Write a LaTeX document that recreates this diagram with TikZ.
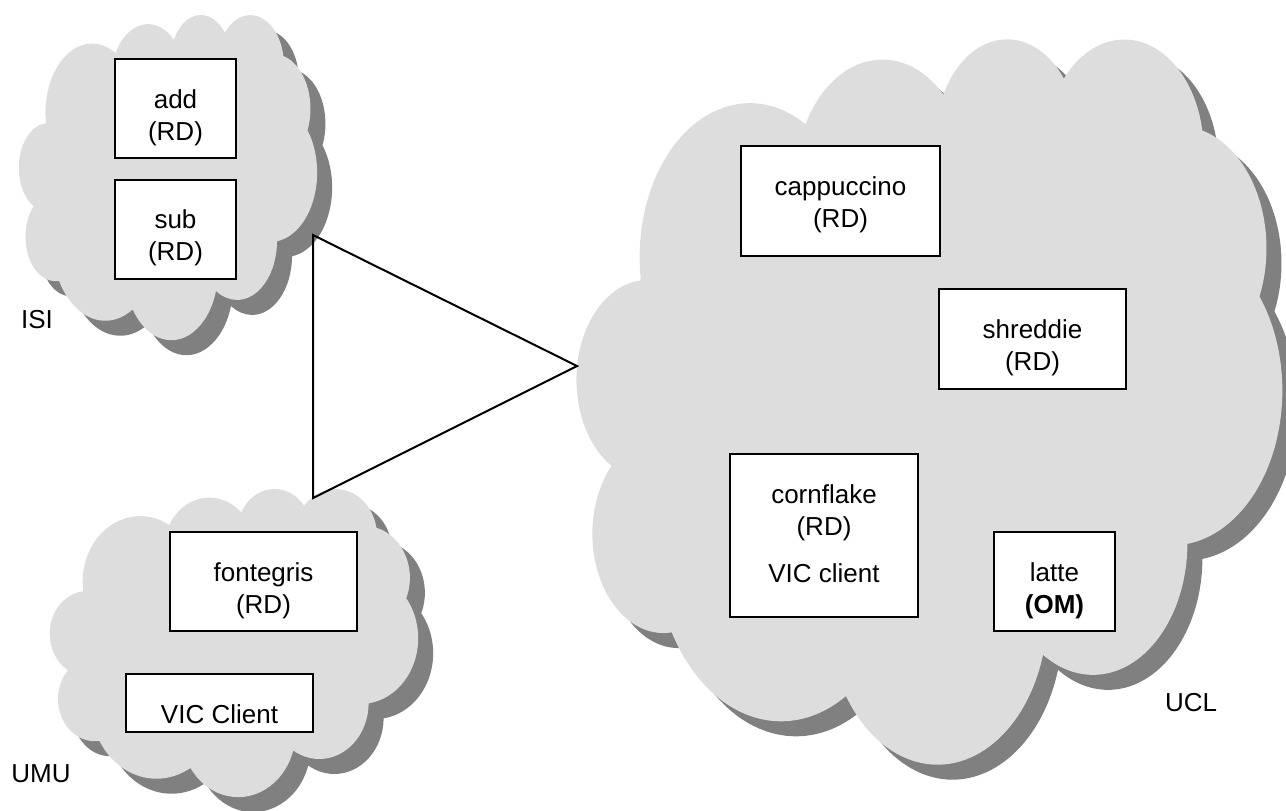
\documentclass[tikz,border=0pt]{standalone}
\usepackage{fontspec}
\setmainfont{Liberation Sans}
\usetikzlibrary{positioning}

\definecolor{cloudgray}{RGB}{221,221,221}
\definecolor{shadowgray}{RGB}{128,128,128}

% outline of one cloud, drawn in a 100 x 100 box
\newcommand{\cloudpath}{(9.028,33.264)
	arc[start angle=172.25, delta angle=128.11, x radius=15.632, y radius=21.273]
	arc[start angle=-152.03, delta angle=106.58, x radius=12.345, y radius=16.822]
	arc[start angle=-153.49, delta angle=116.18, x radius=10.104, y radius=13.762]
	arc[start angle=-139.72, delta angle=129.51, x radius=11.243, y radius=15.266]
	arc[start angle=-74.77, delta angle=97.98, x radius=12.345, y radius=16.836]
	arc[start angle=-37.53, delta angle=119.39, x radius=15.683, y radius=21.343]
	arc[start angle=0.46, delta angle=121.52, x radius=13.391, y radius=18.211]
	arc[start angle=16.84, delta angle=129.38, x radius=15.630, y radius=21.331]
	arc[start angle=58.98, delta angle=91.20, x radius=17.870, y radius=24.405]
	arc[start angle=83.31, delta angle=139.79, x radius=10.093, y radius=13.699]
	arc[start angle=120.36, delta angle=143.75, x radius=10.058, y radius=13.762]
	-- cycle}

% cloud with its shadow: left, top, width, height
\newcommand{\sitecloud}[4]{%
	\fill[shadowgray, shift={(#1+15,#2+15)}, xscale=#3/100, yscale=#4/100] \cloudpath;
	\fill[cloudgray, shift={(#1,#2)}, xscale=#3/100, yscale=#4/100] \cloudpath;}

\begin{document}
\begin{tikzpicture}[x=0.5pt, y=-0.5pt,
	every node/.style = {font=\fontsize{13}{16}\selectfont},
	host/.style = {draw, fill=white, line width=1pt, align=center, inner sep=0pt},
	twolines/.style = {text height=40.5pt},
	site/.style = {inner sep=0pt}]
		\useasboundingbox (0,0) rectangle (1286,810);
		\clip (0,0) rectangle (1286,810);

		\sitecloud{19}{14}{298}{325}
		\sitecloud{50}{488}{368}{308}
		\sitecloud{577}{37}{705}{725}

		% ISI
		\node[host, twolines, minimum width=60.5pt, minimum height=49.5pt, text depth=9pt] (add) at (175.5,108.5) {add\\(RD)};
		\node[host, twolines, minimum width=60.5pt, minimum height=49.5pt, text depth=9pt] (sub) at (175.5,229) {sub\\(RD)};
		\node[site] (isi) at (37,320) {ISI};

		% UMU
		\node[host, twolines, minimum width=93.5pt, minimum height=49.5pt, text depth=9pt] (fontegris) at (263.5,581.5) {fontegris\\(RD)};
		\node[host, minimum width=93.5pt, minimum height=29pt, text height=24.5pt, text depth=4.5pt] (vicumu) at (219.5,703) {VIC Client};
		\node[site] (umu) at (41,774) {UMU};

		% UCL
		\node[host, twolines, minimum width=99.5pt, minimum height=55pt, text depth=14.5pt] (cappuccino) at (840.5,201) {cappuccino\\(RD)};
		\node[host, twolines, minimum width=93.5pt, minimum height=50pt, text depth=9.5pt] (shreddie) at (1032.5,339) {shreddie\\(RD)};
		\node[host, minimum width=94pt, minimum height=81.5pt, text height=64pt, text depth=17.5pt] (cornflake) at (824,535.5) {cornflake\\(RD)\\[7.5pt]VIC client};
		\node[host, twolines, minimum width=60.5pt, minimum height=49.5pt, text depth=9pt] (latte) at (1054.5,581.5) {latte\\\textbf{(OM)}};
		\node[site] (ucl) at (1191,703) {UCL};

		% links between the sites
		\coordinate (isilink) at (313,235);
		\coordinate (ucllink) at (577,366);
		\coordinate (umulink) at (313,498);
		\draw[line width=1pt, line join=miter] (isilink) -- (ucllink) -- (umulink) -- cycle;
\end{tikzpicture}
\end{document}
